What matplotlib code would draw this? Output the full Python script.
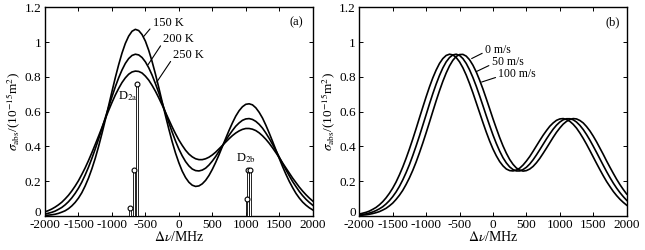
import numpy as np
import matplotlib
matplotlib.use("Agg")
import matplotlib.pyplot as plt

plt.rcParams['font.family'] = ['Liberation Serif', 'DejaVu Serif']
plt.rcParams['mathtext.fontset'] = 'stix'
plt.rcParams['axes.unicode_minus'] = False

# frequency offset grid (MHz); curves every 50 MHz
freq = list(range(-2000, 2001, 50))

# (a) absorption cross section (1e-15 m^2) at three temperatures
sig_150K = [0.003, 0.005, 0.007, 0.010, 0.015, 0.022, 0.030, 0.042, 0.058, 0.078,
            0.103, 0.134, 0.173, 0.218, 0.271, 0.331, 0.399, 0.473, 0.551, 0.633,
            0.715, 0.795, 0.869, 0.936, 0.992, 1.034, 1.062, 1.073, 1.066, 1.043,
            1.005, 0.952, 0.888, 0.816, 0.738, 0.657, 0.577, 0.500, 0.427, 0.362,
            0.306, 0.258, 0.221, 0.194, 0.177, 0.170, 0.173, 0.185, 0.205, 0.233,
            0.268, 0.308, 0.352, 0.399, 0.446, 0.492, 0.535, 0.574, 0.605, 0.628,
            0.642, 0.645, 0.639, 0.622, 0.596, 0.563, 0.522, 0.477, 0.429, 0.380,
            0.331, 0.284, 0.240, 0.199, 0.163, 0.130, 0.103, 0.080, 0.062, 0.047, 0.035]
sig_200K = [0.011, 0.016, 0.021, 0.028, 0.038, 0.049, 0.064, 0.082, 0.104, 0.130,
            0.160, 0.195, 0.236, 0.281, 0.331, 0.385, 0.442, 0.502, 0.564, 0.625,
            0.685, 0.742, 0.794, 0.839, 0.877, 0.905, 0.923, 0.930, 0.926, 0.911,
            0.886, 0.852, 0.810, 0.761, 0.708, 0.651, 0.594, 0.537, 0.482, 0.431,
            0.385, 0.346, 0.313, 0.288, 0.270, 0.261, 0.259, 0.264, 0.275, 0.293,
            0.316, 0.342, 0.372, 0.403, 0.434, 0.464, 0.491, 0.516, 0.535, 0.550,
            0.558, 0.560, 0.555, 0.544, 0.527, 0.505, 0.477, 0.446, 0.412, 0.376,
            0.339, 0.302, 0.266, 0.231, 0.198, 0.169, 0.141, 0.117, 0.096, 0.078, 0.062]
sig_250K = [0.024, 0.031, 0.040, 0.051, 0.064, 0.079, 0.098, 0.119, 0.144, 0.172,
            0.203, 0.239, 0.277, 0.319, 0.364, 0.411, 0.459, 0.508, 0.558, 0.606,
            0.652, 0.695, 0.733, 0.767, 0.794, 0.815, 0.828, 0.833, 0.831, 0.822,
            0.804, 0.781, 0.751, 0.717, 0.679, 0.638, 0.596, 0.554, 0.512, 0.473,
            0.437, 0.406, 0.378, 0.356, 0.340, 0.329, 0.324, 0.324, 0.329, 0.338,
            0.351, 0.367, 0.386, 0.405, 0.425, 0.444, 0.462, 0.477, 0.489, 0.498,
            0.503, 0.503, 0.499, 0.491, 0.478, 0.461, 0.441, 0.418, 0.392, 0.364,
            0.335, 0.305, 0.276, 0.247, 0.218, 0.192, 0.166, 0.143, 0.122, 0.103, 0.086]

# (b) three wind speeds, 0 m/s is the 200 K curve
sig_0ms = sig_200K
sig_50ms = [0.006, 0.009, 0.012, 0.017, 0.023, 0.031, 0.041, 0.053, 0.069, 0.088,
            0.111, 0.138, 0.170, 0.207, 0.249, 0.295, 0.347, 0.402, 0.460, 0.521,
            0.582, 0.644, 0.703, 0.758, 0.808, 0.851, 0.886, 0.911, 0.926, 0.930,
            0.923, 0.905, 0.877, 0.840, 0.796, 0.746, 0.691, 0.634, 0.576, 0.520,
            0.466, 0.417, 0.373, 0.335, 0.305, 0.282, 0.267, 0.259, 0.259, 0.267,
            0.280, 0.299, 0.323, 0.351, 0.381, 0.412, 0.443, 0.472, 0.499, 0.522,
            0.540, 0.553, 0.559, 0.559, 0.553, 0.540, 0.521, 0.497, 0.468, 0.436,
            0.401, 0.365, 0.328, 0.291, 0.255, 0.221, 0.189, 0.160, 0.134, 0.111, 0.090]
sig_100ms = [0.003, 0.005, 0.007, 0.010, 0.014, 0.019, 0.025, 0.034, 0.044, 0.058,
             0.074, 0.095, 0.119, 0.147, 0.181, 0.219, 0.262, 0.310, 0.363, 0.419,
             0.478, 0.539, 0.601, 0.662, 0.720, 0.774, 0.822, 0.863, 0.895, 0.917,
             0.928, 0.929, 0.919, 0.898, 0.867, 0.828, 0.781, 0.730, 0.674, 0.617,
             0.559, 0.504, 0.451, 0.403, 0.361, 0.325, 0.297, 0.276, 0.264, 0.258,
             0.261, 0.270, 0.285, 0.306, 0.331, 0.360, 0.390, 0.421, 0.452, 0.481,
             0.506, 0.528, 0.544, 0.555, 0.560, 0.558, 0.549, 0.535, 0.514, 0.489,
             0.459, 0.426, 0.390, 0.354, 0.316, 0.280, 0.245, 0.211, 0.180, 0.152, 0.126]

# hyperfine lines (position MHz, relative strength)
d2a_pos = [-725, -670, -629]
d2a_str = [0.048, 0.265, 0.759]
d2b_pos = [1015, 1032, 1062]
d2b_str = [0.10, 0.265, 0.265]

fig = plt.figure(figsize=(6.45, 2.5), dpi=100)
ax1 = fig.add_axes([0.0698, 0.136, 0.415, 0.835])
ax2 = fig.add_axes([0.557, 0.136, 0.4146, 0.835])

for ax in (ax1, ax2):
    ax.set_xlim(-2000, 2000)
    ax.set_ylim(0, 1.2)
    ax.set_xticks(range(-2000, 2001, 500))
    ax.set_yticks([0, 0.2, 0.4, 0.6, 0.8, 1.0, 1.2])
    ax.set_yticklabels(['0', '0.2', '0.4', '0.6', '0.8', '1', '1.2'])
    ax.tick_params(direction='in', top=True, right=True, length=3, width=0.7, labelsize=9.5)
    ax.tick_params(axis='x', pad=2.5)
    ax.tick_params(axis='y', pad=2.5)
    # the "0" sits a little above the axis, as in the original
    ax.get_yticklabels()[0].set_verticalalignment('baseline')
    for s in ax.spines.values():
        s.set_linewidth(1.0)
    ax.set_xlabel(r'$\Delta\nu$/MHz', labelpad=-1, fontsize=10)
    ax.set_ylabel(r'$\sigma_{\rm abs}$/(10$^{-15}$m$^2$)', labelpad=1, fontsize=9.5)

# panel (a)
for ys in (sig_150K, sig_200K, sig_250K):
    ax1.plot(freq, ys, color='black', lw=1.2)

for pos, st in ((d2a_pos, d2a_str), (d2b_pos, d2b_str)):
    ax1.bar(pos, st, width=28, facecolor='white', edgecolor='black', lw=0.6, zorder=3)
    ax1.plot(pos, st, 'o', ms=3.5, mfc='white', mec='black', mew=0.8, zorder=4)

ax1.text(-760, 0.69, r'D$_{\rm 2a}$', ha='center', va='center', fontsize=9)
ax1.text(1000, 0.33, r'D$_{\rm 2b}$', ha='center', va='center', fontsize=9)

lead = dict(arrowstyle='-', lw=0.8, color='black', shrinkA=0, shrinkB=0, relpos=(0, 0.3))
ax1.annotate('150 K', xy=(-530, 1.03), xytext=(-390, 1.108), ha='left', va='center',
             fontsize=9, arrowprops=lead)
ax1.annotate('200 K', xy=(-460, 0.87), xytext=(-232, 1.016), ha='left', va='center',
             fontsize=9, arrowprops=lead)
ax1.annotate('250 K', xy=(-330, 0.77), xytext=(-82, 0.926), ha='left', va='center',
             fontsize=9, arrowprops=lead)
ax1.text(0.94, 0.93, '(a)', transform=ax1.transAxes, ha='center', va='center', fontsize=9)

# panel (b)
for ys in (sig_0ms, sig_50ms, sig_100ms):
    ax2.plot(freq, ys, color='black', lw=1.2)

ax2.annotate('0 m/s', xy=(-319, 0.905), xytext=(-120, 0.957), ha='left', va='center',
             fontsize=8.5, arrowprops=lead)
ax2.annotate('50 m/s', xy=(-250, 0.83), xytext=(-20, 0.886), ha='left', va='center',
             fontsize=8.5, arrowprops=lead)
ax2.annotate('100 m/s', xy=(-170, 0.77), xytext=(80, 0.815), ha='left', va='center',
             fontsize=8.5, arrowprops=lead)
ax2.text(0.949, 0.93, '(b)', transform=ax2.transAxes, ha='center', va='center', fontsize=9)

fig.savefig('out.png', dpi=100)
